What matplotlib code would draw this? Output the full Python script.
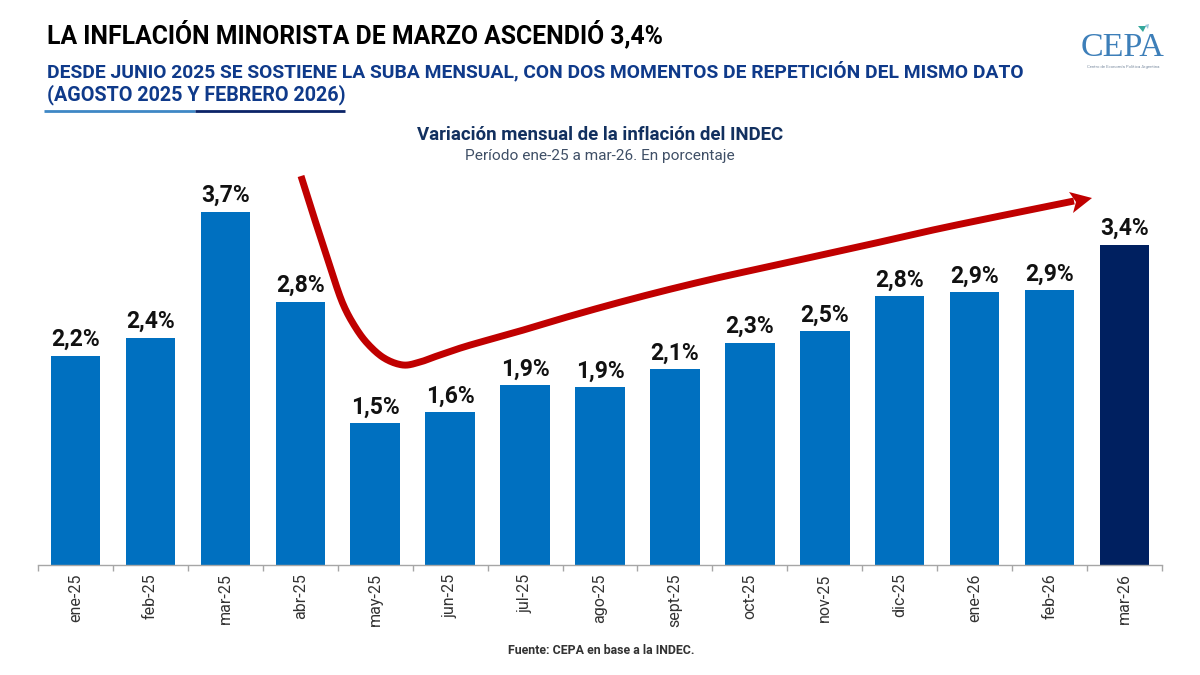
"""Variacion mensual de la inflacion del INDEC, ene-25 a mar-26 (CEPA)."""

import matplotlib

matplotlib.use("Agg")
import matplotlib.pyplot as plt
import numpy as np
from matplotlib.patches import Polygon

plt.rcParams["font.family"] = ["Roboto", "DejaVu Sans"]

W, H = 1200, 675

months = ["ene-25", "feb-25", "mar-25", "abr-25", "may-25", "jun-25", "jul-25", "ago-25",
          "sept-25", "oct-25", "nov-25", "dic-25", "ene-26", "feb-26", "mar-26"]
labels = ["2,2%", "2,4%", "3,7%", "2,8%", "1,5%", "1,6%", "1,9%", "1,9%",
          "2,1%", "2,3%", "2,5%", "2,8%", "2,9%", "2,9%", "3,4%"]
# bar heights as drawn (slightly unrounded compared with the labels)
heights = [2.20, 2.39, 3.72, 2.77, 1.49, 1.61, 1.89, 1.87,
           2.06, 2.34, 2.46, 2.83, 2.87, 2.89, 3.37]

BLUE = "#0070C0"
NAVY = "#002060"
RED = "#C00000"

# trend arrow, picture pixels
arrow_x = [301, 312, 323, 333, 343, 354, 367, 384, 403, 420, 437, 467, 520, 567, 617, 667, 717, 767, 817, 867, 933, 1000, 1074]
arrow_y = [176, 211, 245, 276, 304, 325, 343, 358, 365, 362, 356, 346, 331, 317, 303, 290, 278, 267, 256, 245, 230, 216, 201]
head_x = [1092, 1069, 1076, 1073]
head_y = [198, 192, 202, 213]


def smooth(xs, ys, n=16):
    # catmull-rom through the read points
    p = np.column_stack([xs, ys]).astype(float)
    p = np.vstack([p[0], p, p[-1]])
    out = []
    for i in range(1, len(p) - 2):
        for t in np.linspace(0, 1, n, endpoint=False):
            out.append(0.5 * (2 * p[i] + (p[i + 1] - p[i - 1]) * t
                              + (2 * p[i - 1] - 5 * p[i] + 4 * p[i + 1] - p[i + 2]) * t ** 2
                              + (3 * p[i] - p[i - 1] - 3 * p[i + 1] + p[i + 2]) * t ** 3))
    out.append(p[-2])
    return np.array(out)


def put(fig, x, y, s, **kw):
    fig.text(x / W, 1 - y / H, s, **kw)


fig = plt.figure(figsize=(12, 6.75), dpi=100, facecolor="white")

ax = fig.add_axes([38 / W, 1 - 565 / H, 1124 / W, 400 / H])
pos = np.arange(len(months))
colors = [BLUE] * 14 + [NAVY]
ax.bar(pos, heights, width=0.66, color=colors)
for p, h, lab in zip(pos, heights, labels):
    ax.text(p, h + 0.05, lab, ha="center", va="bottom", fontsize=16.5,
            fontweight="bold", color="#111111")

ax.set_xlim(-0.5, 14.5)
ax.set_ylim(0, 400 / 95)
ax.set_yticks([])
ax.set_xticks(np.arange(-0.5, 15, 1))
ax.set_xticklabels([])
ax.tick_params(axis="x", length=4, width=1, color="#A6A6A6")
for p, m in zip(pos, months):
    ax.annotate(m, (p, 0), xytext=(0, -6), textcoords="offset points", rotation=90,
                ha="center", va="top", fontsize=11.5, color="#333333")
for side in ["top", "left", "right"]:
    ax.spines[side].set_visible(False)
ax.spines["bottom"].set_color("#A6A6A6")
ax.spines["bottom"].set_linewidth(1)

# overlay in picture pixels, y pointing down
over = fig.add_axes([0, 0, 1, 1], facecolor="none")
over.set_xlim(0, W)
over.set_ylim(H, 0)
over.axis("off")

curve = smooth(arrow_x, arrow_y)
over.plot(curve[:, 0], curve[:, 1], color=RED, lw=5, solid_capstyle="butt", solid_joinstyle="round")
over.add_patch(Polygon(np.column_stack([head_x, head_y]), closed=True, color=RED, lw=0))

# rule under the heading
over.plot([44, 195], [111, 111], color="#3F87C5", lw=2, solid_capstyle="butt")
over.plot([195, 345], [111, 111], color="#0B2468", lw=2, solid_capstyle="butt")

# logo
over.text(1122.5, 48, "CEPA", ha="center", va="center", fontsize=24.5, color="#3D7FB9",
          family="Liberation Serif")
over.text(1123, 67, "Centro de Economía Política Argentina", ha="center", va="center",
          fontsize=3.1, color="#7F8FA3")
over.add_patch(Polygon([[1138, 26], [1146, 26], [1143, 32]], closed=True, color="#35A89C", lw=0))
over.add_patch(Polygon([[1145, 25], [1149, 24], [1148, 29]], closed=True, color="#9CC8DC", lw=0))

put(fig, 47, 34, "LA INFLACIÓN MINORISTA DE MARZO ASCENDIÓ 3,4%", fontsize=17.85, fontweight="bold",
    color="black", va="center")
put(fig, 47, 71, "DESDE JUNIO 2025 SE SOSTIENE LA SUBA MENSUAL, CON DOS MOMENTOS DE REPETICIÓN DEL MISMO DATO",
    fontsize=13.9, fontweight="bold", color="#0F3A8A", va="center")
put(fig, 47, 95, "(AGOSTO 2025 Y FEBRERO 2026)", fontsize=14.2, fontweight="bold",
    color="#0F3A8A", va="center")
put(fig, 600, 135, "Variación mensual de la inflación del INDEC", fontsize=13.4, fontweight="bold",
    color="#12305F", ha="center", va="center")
put(fig, 600, 156, "Período ene-25 a mar-26. En porcentaje", fontsize=11.1, color="#3F4F66",
    ha="center", va="center")
put(fig, 601, 651, "Fuente: CEPA en base a la INDEC.", fontsize=8.9, fontweight="bold",
    color="#333333", ha="center", va="center")

fig.savefig("out.png", dpi=100, facecolor="white")
